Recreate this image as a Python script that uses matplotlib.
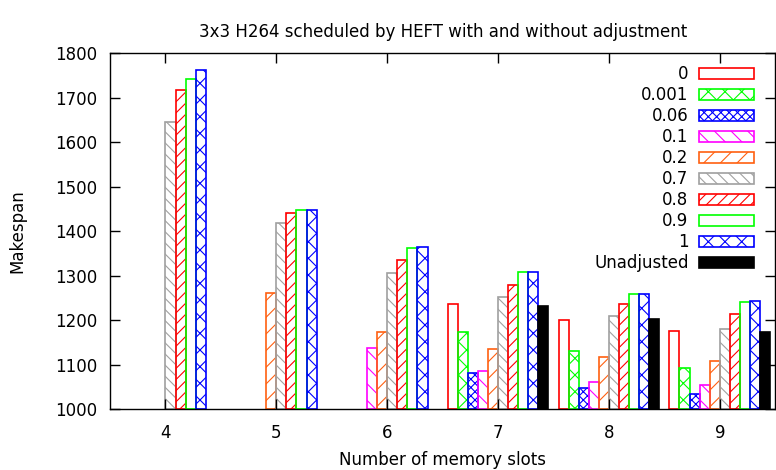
import numpy as np
import matplotlib
matplotlib.use("Agg")
import matplotlib.pyplot as plt

nan = np.nan

# memory slots on the x axis
slots = [4, 5, 6, 7, 8, 9]

# makespan per adjustment factor (nan = no run for that slot count)
adj_0     = [nan, nan, nan, 1237, 1201, 1176]
adj_0001  = [nan, nan, nan, 1173, 1130, 1092]
adj_006   = [nan, nan, nan, 1080, 1047, 1034]
adj_01    = [nan, nan, 1138, 1086, 1061, 1053]
adj_02    = [nan, 1260, 1173, 1135, 1116, 1109]
adj_07    = [1646, 1419, 1306, 1253, 1209, 1179]
adj_08    = [1718, 1440, 1336, 1280, 1236, 1213]
adj_09    = [1743, 1447, 1363, 1308, 1258, 1240]
adj_1     = [1763, 1447, 1365, 1308, 1258, 1243]
unadjusted = [nan, nan, nan, 1231, 1203, 1173]

labels = ["0", "0.001", "0.06", "0.1", "0.2", "0.7", "0.8", "0.9", "1", "Unadjusted"]
series = [adj_0, adj_0001, adj_006, adj_01, adj_02, adj_07, adj_08, adj_09, adj_1, unadjusted]
colors = ["#ff0000", "#00ff00", "#0000ff", "#ff00ff", "#ff6010", "#a0a0a0",
          "#ff0000", "#00ff00", "#0000ff", "#000000"]
hatches = ["", "xx", "xxxx", "\\\\", "//", "\\\\\\", "///", "", "xx", ""]

plt.rcParams["font.family"] = "DejaVu Sans"
plt.rcParams["font.size"] = 12
plt.rcParams["hatch.linewidth"] = 0.8

fig = plt.figure(figsize=(7.76, 4.70), dpi=100)
ax = fig.add_axes([0.1418, 0.1298, 0.8572, 0.7564])

n = len(series)
w = 1.0 / (n + 1)
x = np.array(slots, dtype=float)
for i, (vals, lab, c, h) in enumerate(zip(series, labels, colors, hatches)):
    pos = x + (i - (n - 1) / 2) * w
    if lab == "Unadjusted":
        ax.bar(pos, np.array(vals) - 1000, w, bottom=1000, color=c, edgecolor=c,
               linewidth=1.2, label=lab)
    else:
        ax.bar(pos, np.array(vals) - 1000, w, bottom=1000, fill=False, edgecolor=c,
               hatch=h, linewidth=1.2, label=lab)

ax.set_xlim(3.5, 9.5)
ax.set_ylim(1000, 1800)
ax.set_xticks(slots)
ax.set_yticks(range(1000, 1801, 100))
ax.tick_params(direction="in", length=7, width=1, top=True, right=True)
ax.tick_params(axis="x", pad=11)
ax.tick_params(axis="y", pad=9)
for s in ax.spines.values():
    s.set_linewidth(1)

ax.set_title("3x3 H264 scheduled by HEFT with and without adjustment", fontsize=12, pad=12)
ax.set_xlabel("Number of memory slots", labelpad=6)
ax.set_ylabel("Makespan", labelpad=21)

ax.legend(loc="upper right", frameon=False, markerfirst=False, handlelength=3.3,
          handleheight=0.6, labelspacing=0.18, handletextpad=0.6,
          borderaxespad=0.3, bbox_to_anchor=(0.985, 1.0))

fig.savefig("out.png", dpi=100)
